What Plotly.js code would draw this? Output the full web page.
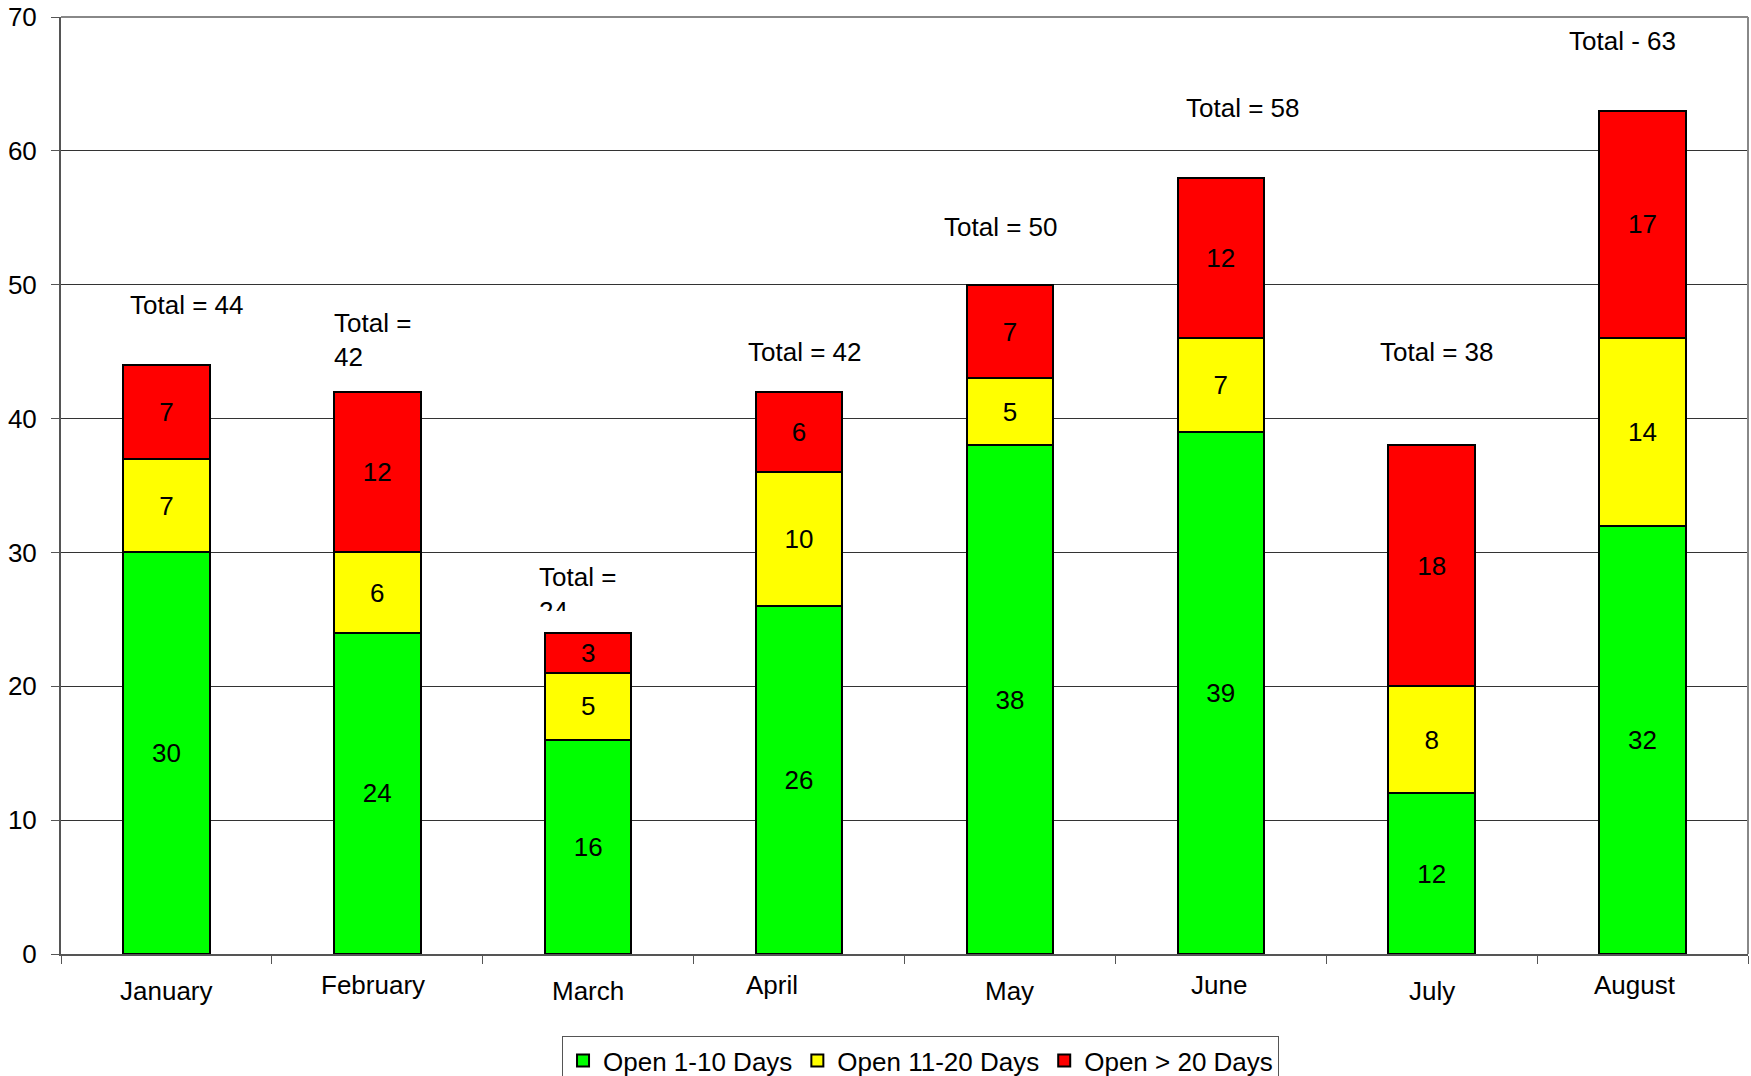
<!DOCTYPE html>
<html>
<head>
<meta charset="utf-8">
<script src="https://cdn.plot.ly/plotly-3.0.1.min.js"></script>
<style>html,body{margin:0;padding:0;background:#fff;}#chart{width:1751px;height:1076px;}</style>
</head>
<body>
<div id="chart"></div>
<script>
const months = ["January","February","March","April","May","June","July","August"];
const open1to10 = [30,24,16,26,38,39,12,32];
const open11to20 = [7,6,5,10,5,7,8,14];
const openOver20 = [7,12,3,6,7,12,18,17];
const totalLabels = ["Total = 44","Total =<br>42","Total =<br>24","Total = 42","Total = 50","Total = 58","Total = 38","Total - 63"];
const seriesNames = ["Open 1-10 Days","Open 11-20 Days","Open > 20 Days"];
const seriesColors = ["#00FF00","#FFFF00","#FF0000"];

const FONT = "Liberation Sans, Arial, sans-serif";
const seriesValues = [open1to10, open11to20, openOver20];
const totals = months.map((m,i)=>open1to10[i]+open11to20[i]+openOver20[i]);

const traces = seriesValues.map((vals,k)=>({
  type:"bar", name:seriesNames[k], x:months, y:vals,
  text:vals.map(String), textposition:"inside", insidetextanchor:"middle",
  textfont:{family:FONT,size:26,color:"#000"},
  marker:{color:seriesColors[k], line:{color:"#000",width:2}},
  hoverinfo:"skip"
}));

// total label placement (offset in category units, value-space height)
const totXOff = [0.093,-0.215,-0.243,0.027,-0.043,0.104,0.022,-0.094];
const totYPos = [totals[0]+4.5,totals[1]+3.9,totals[2]+2.9,totals[3]+3.0,totals[4]+4.3,totals[5]+5.2,totals[6]+7.0,totals[7]+5.2];
const totAnchor = ["center","left","left","center","center","center","center","center"];

const annotations = [];
months.forEach((m,i)=>{
  annotations.push({xref:"x",yref:"y",x:i+totXOff[i],y:totYPos[i],text:totalLabels[i],
    showarrow:false,xanchor:totAnchor[i],yanchor:"middle",align:"left",
    font:{family:FONT,size:26,color:"#000"}});
});
// white cover clipping the March total label
annotations.push({xref:"x",yref:"y",x:2-0.148,y:25.0,text:"&nbsp;",showarrow:false,
  width:52,height:17,bgcolor:"#fff",borderwidth:0,borderpad:0,xanchor:"center",yanchor:"middle",
  font:{family:FONT,size:10}});
// staggered category labels
const labXShift = [0,-4.5,0,-27,0,-2,0,-8];
months.forEach((m,i)=>{
  annotations.push({xref:"x",yref:"paper",x:i,y:(i%2===0)?-0.040:-0.033,xshift:labXShift[i],
    text:m,showarrow:false,xanchor:"center",yanchor:"middle",
    font:{family:FONT,size:26,color:"#000"}});
});

const layout = {
  width:1751,height:1076,
  margin:{l:61,r:3,t:17,b:122,autoexpand:false},
  paper_bgcolor:"#fff",plot_bgcolor:"#fff",
  barmode:"stack",bargap:0.59,
  showlegend:true,
  legend:{orientation:"h",x:0.5095,xanchor:"center",y:-0.0876,yanchor:"top",
    bgcolor:"#fff",bordercolor:"#555",borderwidth:1,
    font:{family:FONT,size:26,color:"#000"},traceorder:"normal"},
  xaxis:{type:"category",showticklabels:false,showgrid:false,zeroline:false,
    ticks:"outside",tickson:"boundaries",ticklen:8,tickcolor:"#555",tickwidth:1,
    showline:true,linecolor:"#555",linewidth:2},
  yaxis:{range:[0,70],dtick:10,tick0:0,showgrid:true,gridcolor:"#333",gridwidth:1,
    zeroline:false,ticks:"outside",ticklen:8,tickcolor:"#555",tickwidth:1,
    showline:true,linecolor:"#555",linewidth:2,ticklabelstandoff:9,
    tickfont:{family:FONT,size:26,color:"#000"}},
  shapes:[
    {type:"line",xref:"paper",yref:"paper",x0:0,x1:1,y0:1,y1:1,line:{color:"#888",width:2}},
    {type:"line",xref:"paper",yref:"paper",x0:1,x1:1,y0:0,y1:1,line:{color:"#888",width:2}}
  ],
  annotations:annotations,
  font:{family:FONT,color:"#000"}
};

Plotly.newPlot("chart",traces,layout,{displayModeBar:false,staticPlot:true});
</script>
</body>
</html>
